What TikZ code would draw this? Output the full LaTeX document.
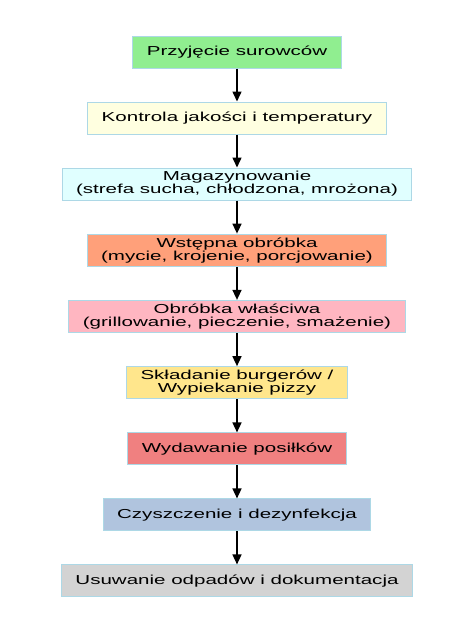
\documentclass[tikz,border=0pt]{standalone}
\usepackage{fontspec}
\setmainfont{Liberation Sans}[FakeStretch=1.58]
\usepackage{tikz}
\usetikzlibrary{positioning,arrows.meta}

\definecolor{odbior}{RGB}{144,238,144}
\definecolor{kontrola}{RGB}{255,255,224}
\definecolor{magazyn}{RGB}{224,255,255}
\definecolor{wstepna}{RGB}{255,160,122}
\definecolor{wlasciwa}{RGB}{255,182,193}
\definecolor{skladanie}{RGB}{255,230,140}
\definecolor{wydawanie}{RGB}{240,128,128}
\definecolor{mycie}{RGB}{176,196,222}
\definecolor{odpady}{RGB}{211,211,211}
\definecolor{ramka}{RGB}{173,216,230}

\begin{document}
\begin{tikzpicture}[x=1pt,y=1pt,
        box/.style={rectangle,draw=ramka,line width=1pt,align=center,
            minimum height=32pt,inner xsep=14pt,inner ysep=3.5pt,
            font=\fontsize{13}{13}\selectfont},
        arr/.style={-{Triangle[width=9pt,length=10pt]},line width=1.5pt},
        node distance=33pt]
        \useasboundingbox (0,0) rectangle (474,-632);

        \node[box,fill=odbior] (1) at (237,-52) {Przyjęcie surowców};
        \node[box,fill=kontrola,below=of 1] (2) {Kontrola jakości i temperatury};
        \node[box,fill=magazyn,below=of 2] (3) {Magazynowanie\\(strefa sucha, chłodzona, mrożona)};
        \node[box,fill=wstepna,below=of 3] (4) {Wstępna obróbka\\(mycie, krojenie, porcjowanie)};
        \node[box,fill=wlasciwa,below=of 4] (5) {Obróbka właściwa\\(grillowanie, pieczenie, smażenie)};
        \node[box,fill=skladanie,below=of 5] (6) {Składanie burgerów /\\Wypiekanie pizzy};
        \node[box,fill=wydawanie,below=of 6] (7) {Wydawanie posiłków};
        \node[box,fill=mycie,below=of 7] (8) {Czyszczenie i dezynfekcja};
        \node[box,fill=odpady,below=of 8] (9) {Usuwanie odpadów i dokumentacja};

        \draw[arr] (1) -- (2);
        \draw[arr] (2) -- (3);
        \draw[arr] (3) -- (4);
        \draw[arr] (4) -- (5);
        \draw[arr] (5) -- (6);
        \draw[arr] (6) -- (7);
        \draw[arr] (7) -- (8);
        \draw[arr] (8) -- (9);
    \end{tikzpicture}
\end{document}
